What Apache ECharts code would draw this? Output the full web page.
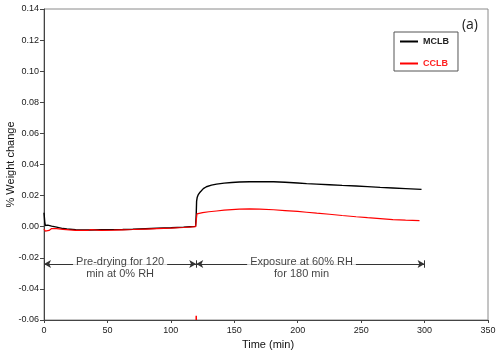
<!DOCTYPE html>
<html>
<head>
<meta charset="utf-8">
<script src="https://cdn.jsdelivr.net/npm/echarts@6/dist/echarts.min.js"></script>
<style>html,body{margin:0;padding:0;background:#fff}#c{width:500px;height:354px}</style>
</head>
<body>
<div id="c"></div>
<script>
// ---- data ----
const mclbTime = [0, 0.2, 0.6, 1, 3, 6, 10, 15, 18, 25, 30, 36, 45, 55, 62, 70, 80, 89, 100, 110, 115, 119.5, 120, 120.3, 120.8, 121.5, 123, 125.6, 128, 132, 136, 142, 148, 154, 162, 170, 181, 190, 200, 207, 215, 225, 235, 246, 255, 265, 275, 285, 297.6];
const mclbVal  = [0.009, 0.007, 0.003, 0.0008, 0.001, 0.0004, -0.0003, -0.0012, -0.0015, -0.0019, -0.0021, -0.0021, -0.002, -0.0019, -0.0018, -0.0016, -0.0013, -0.001, -0.0007, -0.0003, 0.0000, 0.0002, 0.008, 0.0165, 0.019, 0.0204, 0.0222, 0.0245, 0.0257, 0.0267, 0.0274, 0.028, 0.0284, 0.0287, 0.0289, 0.029, 0.0289, 0.0286, 0.0281, 0.0277, 0.0274, 0.027, 0.0266, 0.0262, 0.0258, 0.0253, 0.0249, 0.0245, 0.024];
const cclbTime = [0, 1, 2.5, 4, 6, 10, 15, 20, 25, 30, 35, 37, 38, 45, 55, 62, 70, 80, 89, 100, 110, 119.5, 120, 120.6, 121, 125, 130, 136, 142, 148, 154, 162, 170, 181, 190, 200, 207, 215, 225, 235, 246, 255, 265, 275, 285, 296];
const cclbVal  = [-0.0015, -0.0028, -0.003, -0.0024, -0.0012, -0.0013, -0.0017, -0.0021, -0.0023, -0.0024, -0.0023, -0.0019, -0.0025, -0.0024, -0.0022, -0.002, -0.0018, -0.0015, -0.0012, -0.0009, -0.0005, 0.0000, 0.004, 0.0083, 0.0086, 0.0091, 0.0096, 0.0101, 0.0106, 0.011, 0.0113, 0.0114, 0.0113, 0.0109, 0.0104, 0.0098, 0.0093, 0.0087, 0.008, 0.0072, 0.0064, 0.0058, 0.0052, 0.0046, 0.0042, 0.0039];
const cclbSpikeTime = [120, 120];
const cclbSpikeVal = [-0.06, -0.0572];
const xTicks = {min: 0, max: 350, interval: 50};
const yTicks = {min: -0.06, max: 0.14, interval: 0.02};
const arrowY = -0.024;
const arrowSpans = [[0, 120], [120, 300]];
const arrowBars = [0, 120, 300];
const annotX = [60, 203];
const annotText = ['Pre-drying for 120\nmin at 0% RH', 'Exposure at 60% RH\nfor 180 min'];
const seriesNames = ['MCLB', 'CCLB'];
const panelLabel = '(a)';

const zip = (a, b) => a.map((v, i) => [v, b[i]]);
const FONT = 'Liberation Sans, Arial, sans-serif';

const chart = echarts.init(document.getElementById('c'), null, {renderer: 'canvas'});
chart.setOption({
  animation: false,
  textStyle: {fontFamily: FONT},
  title: {
    text: panelLabel, right: 17, top: 13,
    textStyle: {fontFamily: 'Open Sans, sans-serif', fontSize: 14, fontWeight: 'normal', color: '#222'}
  },
  grid: {left: 44, top: 9, right: 12, bottom: 34, containLabel: false, outerBoundsMode: 'none',
         show: true, borderColor: '#8a8a8a', borderWidth: 1},
  legend: {
    orient: 'vertical', left: 394, top: 32,
    padding: [5, 9, 3, 6], itemGap: 13,
    itemWidth: 18, itemHeight: 2, icon: 'rect',
    borderColor: '#555', borderWidth: 1, backgroundColor: '#fff',
    textStyle: {fontSize: 9, fontWeight: 'bold', fontFamily: FONT},
    data: [
      {name: seriesNames[0], textStyle: {color: '#222'}},
      {name: seriesNames[1], textStyle: {color: '#ff2020'}}
    ]
  },
  xAxis: {
    type: 'value', min: xTicks.min, max: xTicks.max, interval: xTicks.interval,
    name: 'Time (min)', nameLocation: 'middle', nameGap: 19, nameMoveOverlap: false,
    nameTextStyle: {fontSize: 11, color: '#111', fontFamily: FONT, padding: [0, 0, 0, 4]},
    axisLine: {onZero: false, lineStyle: {color: '#444', width: 1}},
    axisTick: {show: true, length: 3, lineStyle: {color: '#444'}},
    axisLabel: {fontSize: 9, color: '#1a1a1a', margin: 6},
    splitLine: {show: false}
  },
  yAxis: {
    type: 'value', min: yTicks.min, max: yTicks.max, interval: yTicks.interval,
    name: '% Weight change', nameLocation: 'middle', nameGap: 28, nameMoveOverlap: false,
    nameTextStyle: {fontSize: 11, color: '#111', fontFamily: FONT},
    axisLine: {show: true, onZero: false, lineStyle: {color: '#444', width: 1}},
    axisTick: {show: true, length: 4, lineStyle: {color: '#444'}},
    axisLabel: {fontSize: 9, color: '#1a1a1a', margin: 5, formatter: v => v.toFixed(2)},
    splitLine: {show: false}
  },
  series: [
    {
      name: seriesNames[0], type: 'line', data: zip(mclbTime, mclbVal),
      showSymbol: false, symbol: 'none', smooth: false,
      lineStyle: {color: '#000', width: 1.4}, itemStyle: {color: '#000'}, z: 4
    },
    {
      name: seriesNames[1], type: 'line', data: zip(cclbTime, cclbVal),
      showSymbol: false, symbol: 'none', smooth: false,
      lineStyle: {color: '#ff0000', width: 1.2}, itemStyle: {color: '#ff0000'}, z: 5
    },
    {
      name: seriesNames[1], type: 'line', data: zip(cclbSpikeTime, cclbSpikeVal),
      showSymbol: false, symbol: 'none',
      lineStyle: {color: '#ff0000', width: 1.5}, itemStyle: {color: '#ff0000'}, z: 5
    },
    {
      name: 'arrows', type: 'line', data: [], silent: true, z: 3,
      markLine: {
        silent: true, animation: false,
        symbol: 'none',
        label: {show: false},
        lineStyle: {color: '#333', width: 1, type: 'solid'},
        emphasis: {disabled: true},
        data: [
          ...arrowSpans.map(s => [
            {coord: [s[0], arrowY], symbol: 'arrow', symbolSize: [6, 7]},
            {coord: [s[1], arrowY], symbol: 'arrow', symbolSize: [6, 7]}
          ]),
          ...arrowBars.map(x => [
            {coord: [x, arrowY - 0.0024], symbol: 'none'},
            {coord: [x, arrowY + 0.0024], symbol: 'none'}
          ])
        ]
      }
    },
    {
      name: 'notes', type: 'scatter', silent: true, z: 10,
      symbolSize: 0,
      data: annotX.map((x, i) => ({value: [x, arrowY], text: annotText[i]})),
      label: {
        show: true, position: 'inside', offset: [0, 4],
        formatter: p => p.data.text,
        fontSize: 11, lineHeight: 12, color: '#111', fontFamily: FONT,
        backgroundColor: '#fff', padding: [0, 3]
      }
    }
  ]
});
</script>
</body>
</html>
